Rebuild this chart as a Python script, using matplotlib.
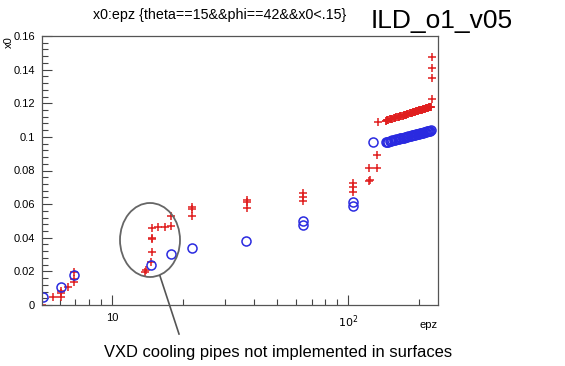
import numpy as np
import matplotlib.pyplot as plt
from matplotlib.patches import Ellipse
from matplotlib.lines import Line2D
from matplotlib.ticker import FixedLocator, FuncFormatter, MultipleLocator, NullFormatter

plt.rcParams['font.family'] = ['Liberation Sans', 'DejaVu Sans']

# red crosses (epz, x0)
red_epz = [5.05, 5.6, 6.1, 6.1, 6.1, 6.5, 6.9, 6.9, 6.9, 13.8, 13.9, 14.6, 14.7,
           14.8, 14.8, 14.8, 15.7, 16.8, 17.7, 17.8, 21.9, 21.9, 21.9,
           37.1, 37.1, 37.1, 64.3, 64.3, 64.3, 104.8, 104.8, 104.8,
           123, 123.5, 123, 132.3, 132.3, 133.6,
           226, 226, 226, 226]
red_x0 = [0.0, 0.0048, 0.0050, 0.0073, 0.0085, 0.0110, 0.0139, 0.0153, 0.0195,
          0.0198, 0.0210, 0.0258, 0.0317, 0.0390, 0.0400, 0.0460, 0.0462, 0.0462,
          0.0470, 0.0530, 0.0530, 0.0570, 0.0580, 0.0575, 0.0615, 0.0625,
          0.0619, 0.0644, 0.0668, 0.0674, 0.0700, 0.0724,
          0.0738, 0.0742, 0.0815, 0.0815, 0.0894, 0.1087,
          0.1224, 0.1352, 0.1408, 0.1477]

# blue circles (epz, x0)
blue_epz = [5.1, 6.08, 6.9, 14.6, 17.7, 21.8, 37.0, 64.3, 64.3, 104.8, 104.8, 126.8]
blue_x0 = [0.0050, 0.0107, 0.0177, 0.0236, 0.0303, 0.0340, 0.0380,
           0.0474, 0.0500, 0.0590, 0.0615, 0.0968]

# dense band at high epz
band_epz = [144, 146, 148, 150, 152, 154, 156, 158, 160, 162, 164, 166, 168, 170,
            172, 174, 176, 178, 180, 182, 184, 186, 188, 190, 192, 194, 196, 198,
            200, 202, 204, 206, 208, 210, 212, 214, 216, 218, 220, 222, 224]
band_red_x0 = [0.1096, 0.1099, 0.1101, 0.1104, 0.1106, 0.1109, 0.1111, 0.1113,
               0.1116, 0.1118, 0.1120, 0.1122, 0.1125, 0.1127, 0.1129, 0.1131,
               0.1133, 0.1135, 0.1137, 0.1140, 0.1142, 0.1144, 0.1146, 0.1147,
               0.1149, 0.1151, 0.1153, 0.1155, 0.1157, 0.1159, 0.1161, 0.1162,
               0.1164, 0.1166, 0.1168, 0.1170, 0.1171, 0.1173, 0.1175, 0.1176,
               0.1178]
band_blue_x0 = [0.0968, 0.0970, 0.0972, 0.0974, 0.0977, 0.0979, 0.0981, 0.0983,
                0.0985, 0.0987, 0.0989, 0.0991, 0.0992, 0.0994, 0.0996, 0.0998,
                0.1000, 0.1002, 0.1003, 0.1005, 0.1007, 0.1009, 0.1010, 0.1012,
                0.1014, 0.1015, 0.1017, 0.1018, 0.1020, 0.1022, 0.1023, 0.1025,
                0.1026, 0.1028, 0.1029, 0.1031, 0.1032, 0.1034, 0.1035, 0.1037,
                0.1038]

y_ticks = [0, 0.02, 0.04, 0.06, 0.08, 0.1, 0.12, 0.14, 0.16]

W, H = 565, 366
fig = plt.figure(figsize=(W / 100, H / 100), dpi=100)
fig.patch.set_facecolor('white')
ax = fig.add_axes([42 / W, 1 - 305 / H, (438 - 42) / W, (305 - 36) / H])

red = '#e01e1e'
blue = '#2a2ae0'
ax.plot(band_epz, band_red_x0, '+', color=red, ms=6, mew=1.3)
ax.plot(red_epz, red_x0, '+', color=red, ms=5.5, mew=1.1)
ax.plot(band_epz, band_blue_x0, 'o', mfc='none', mec=blue, ms=6.5, mew=1.1)
ax.plot(blue_epz, blue_x0, 'o', mfc='none', mec=blue, ms=6.5, mew=1.1)

ax.set_xscale('log')
ax.set_xlim(5.05, 240)
ax.set_ylim(0, 0.16)

ax.yaxis.set_major_locator(FixedLocator(y_ticks))
ax.yaxis.set_minor_locator(MultipleLocator(0.004))
ax.yaxis.set_major_formatter(FuncFormatter(lambda v, p: '%g' % round(v, 3)))
ax.xaxis.set_major_formatter(FuncFormatter(lambda v, p: '10' if v == 10 else r'$10^{2}$'))
ax.xaxis.set_minor_formatter(NullFormatter())

ax.tick_params(which='both', direction='in', top=False, right=False,
               labelsize=8, color='#444444')
ax.tick_params(axis='y', pad=5)
ax.tick_params(axis='x', pad=6)
ax.tick_params(which='major', length=7, width=0.8)
ax.tick_params(which='minor', length=4, width=0.8)
for s in ax.spines.values():
    s.set_color('#555555')
    s.set_linewidth(0.9)

fig.text(220 / W, 1 - 15 / H, 'x0:epz {theta==15&&phi==42&&x0<.15}',
         ha='center', va='center', fontsize=10.3)
fig.text(442 / W, 1 - 21 / H, 'ILD_o1_v05', ha='center', va='center', fontsize=19)
fig.text(9 / W, 1 - 42 / H, 'x0', rotation=90, ha='center', va='center', fontsize=8)
fig.text(438 / W, 1 - 325 / H, 'epz', ha='right', va='center', fontsize=8)
fig.text(278 / W, 1 - 353 / H, 'VXD cooling pipes not implemented in surfaces',
         ha='center', va='center', fontsize=11.9)

# annotation ellipse and pointer
ell = Ellipse((150 / W, 1 - 240 / H), 60 / W, 74 / H, transform=fig.transFigure,
              fill=False, edgecolor='#666666', lw=1.3)
fig.patches.append(ell)
fig.lines.append(Line2D([160 / W, 179 / W], [1 - 276 / H, 1 - 334 / H],
                        transform=fig.transFigure, color='#555555', lw=1.2))

fig.savefig('out.png', dpi=100)
